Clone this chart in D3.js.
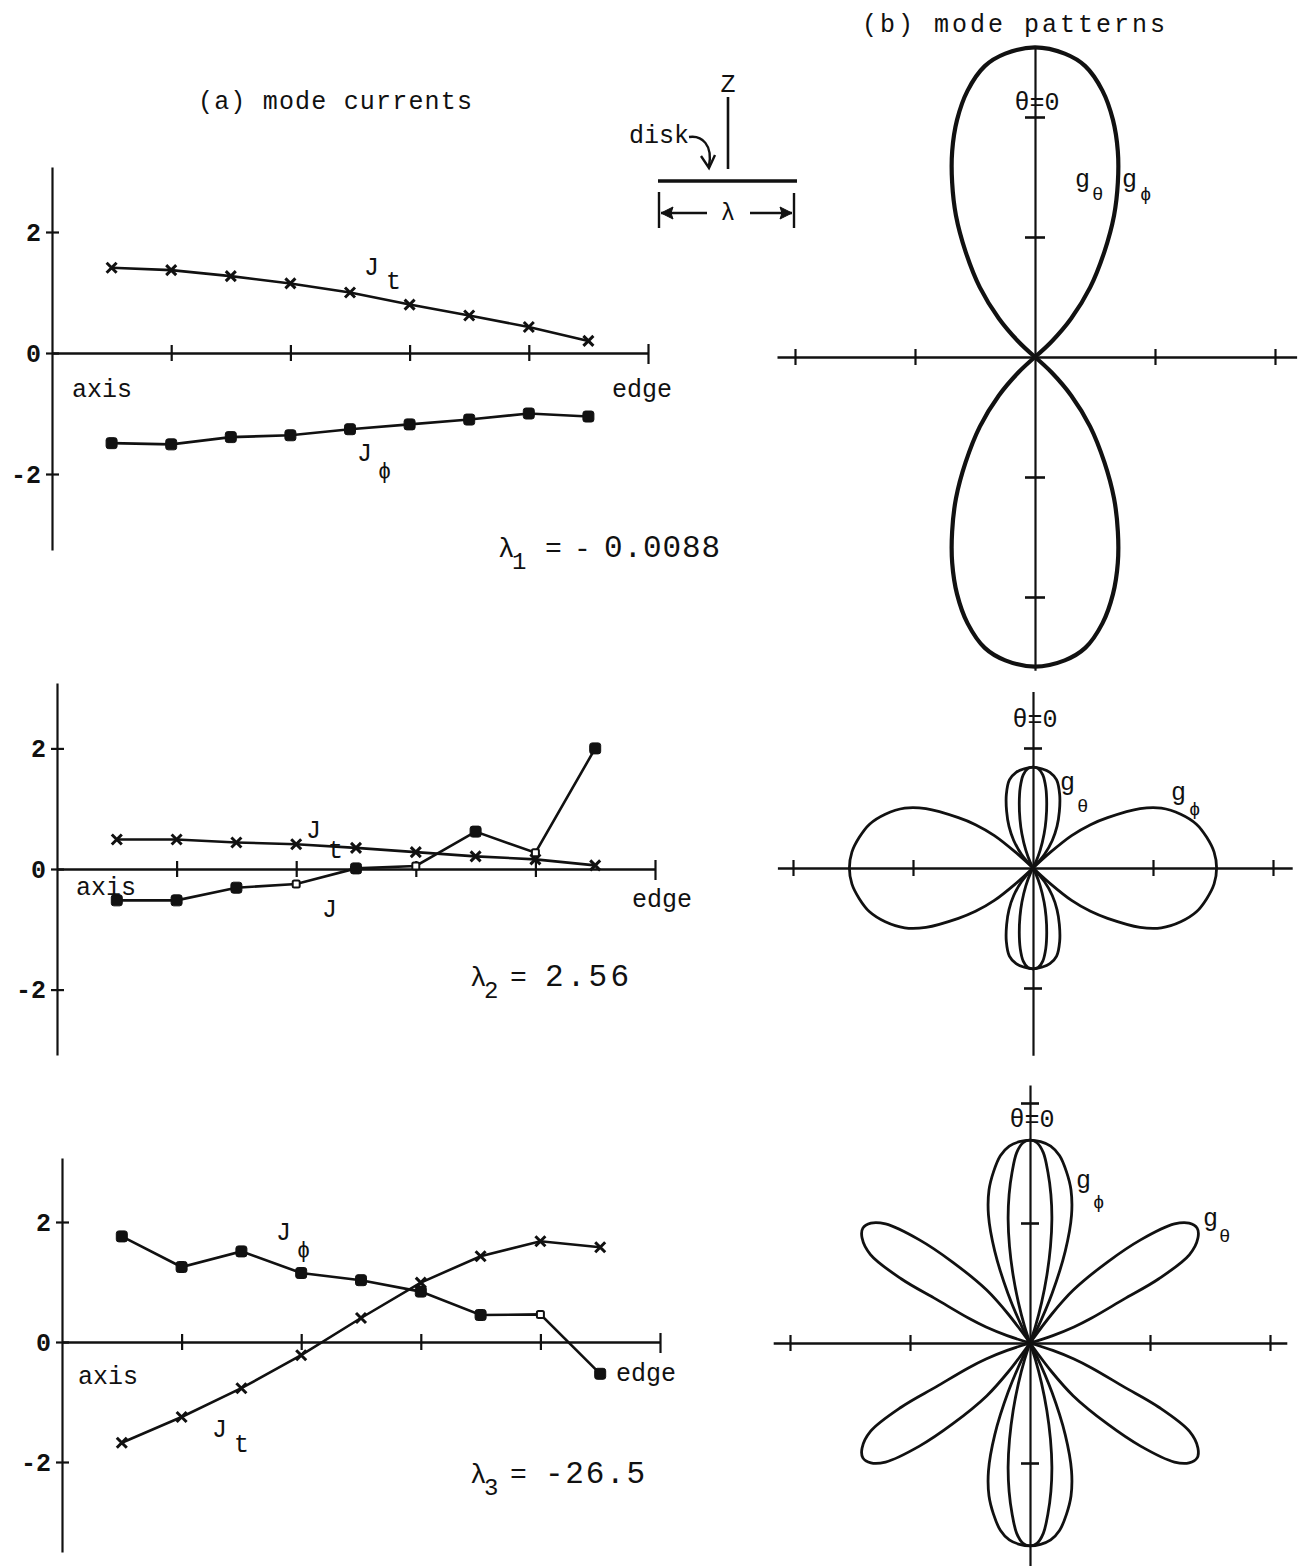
<!DOCTYPE html>
<html><head><meta charset="utf-8">
<script src="https://cdn.jsdelivr.net/npm/d3@7"></script>
<style>
body{margin:0;background:#fff}
svg{display:block}
text{font-family:"Liberation Mono","DejaVu Sans Mono",monospace;fill:#111}
</style></head><body>
<svg id="fig" width="1300" height="1566"></svg>
<script>
// ---- (a) mode currents: radial stations from the disk axis (0) to its edge (5)
const stations = [0.5, 1, 1.5, 2, 2.5, 3, 3.5, 4, 4.5];
const xTicks = [1, 2, 3, 4, 5];
const yTicks = [-2, 0, 2];
const yTickLabels = ["-2", "0", "2"];

const mode1Jt   = [1.41, 1.37, 1.27, 1.15, 1.00, 0.80, 0.62, 0.43, 0.20];
const mode1Jphi = [-1.49, -1.51, -1.39, -1.36, -1.26, -1.18, -1.10, -1.00, -1.05];
const mode2Jt   = [0.49, 0.49, 0.44, 0.41, 0.35, 0.28, 0.21, 0.16, 0.06];
const mode2Jphi = [-0.52, -0.52, -0.31, -0.25, 0.01, 0.05, 0.62, 0.27, 2.00];
const mode3Jt   = [-1.68, -1.25, -0.77, -0.22, 0.40, 0.99, 1.43, 1.68, 1.58];
const mode3Jphi = [1.76, 1.25, 1.51, 1.15, 1.03, 0.84, 0.45, 0.46, -0.53];
// stations whose J_phi marker is drawn hollow
const mode1Hollow = [];
const mode2Hollow = [3, 5, 7];
const mode3Hollow = [7];
const eigenvalues = ["- 0.0088", "2.56", "-26.5"];

// ---- (b) mode patterns: half-lobe samples, angle from the z axis (deg) and radius
const p1Theta = [0, 5.6, 9.8, 14.2, 18.2, 21.9, 25.4, 29.2, 33.4, 38.4, 43.2, 47.1, 52];
const p1R     = [2.58, 2.54, 2.46, 2.29, 2.08, 1.85, 1.61, 1.35, 1.05, 0.74, 0.44, 0.19, 0];

const p2PhiTheta = [46, 48, 50, 53, 56, 61, 65, 70, 75, 80, 85, 90];
const p2PhiR     = [0, 0.2, 0.42, 0.6, 0.75, 1.02, 1.18, 1.31, 1.41, 1.47, 1.515, 1.53];
const p2ThOuterTheta = [0, 5, 10, 15, 20, 25, 30, 35, 40, 46];
const p2ThOuterR     = [0.84, 0.83, 0.81, 0.76, 0.65, 0.52, 0.40, 0.28, 0.15, 0];
const p2ThInnerTheta = [0, 3, 6, 9, 12, 15, 18, 22, 26, 29];
const p2ThInnerR     = [0.84, 0.83, 0.78, 0.68, 0.55, 0.42, 0.30, 0.16, 0.05, 0];

const p3PhiOuterTheta = [0, 3, 6, 9, 12, 15, 18, 21, 24, 27, 29];
const p3PhiOuterR     = [1.69, 1.68, 1.65, 1.58, 1.46, 1.32, 1.12, 0.82, 0.45, 0.12, 0];
const p3PhiInnerTheta = [0, 2, 4, 6, 8, 10, 12, 14, 16, 18, 20];
const p3PhiInnerR     = [1.69, 1.67, 1.59, 1.43, 1.25, 1.05, 0.82, 0.58, 0.35, 0.15, 0];
const p3ThTheta = [34, 37, 39.3, 43.7, 47, 50.5, 53, 55.5, 58, 61, 63.5, 65, 68, 70, 72, 74];
const p3ThR     = [0, 0.3, 0.57, 0.93, 1.26, 1.56, 1.66, 1.69, 1.65, 1.52, 1.2, 0.86, 0.55, 0.39, 0.2, 0];

const svg = d3.select("#fig");
const INK = "#111";

function label(x, y, txt, size, opts = {}) {
  const t = svg.append("text").attr("x", x).attr("y", y)
    .attr("font-size", size).text(txt);
  if (opts.anchor) t.attr("text-anchor", opts.anchor);
  if (opts.weight) t.attr("font-weight", opts.weight);
  if (opts.len) t.attr("textLength", opts.len).attr("lengthAdjust", "spacing");
  return t;
}

// titles
label(198, 109, "(a)  mode currents", 25, {len: 274});
label(862, 32, "(b) mode patterns", 25, {len: 303});

// ---------- left column ----------
const panelsA = [
  {x0: 52, x5: 648, y0: 353, unit: 60.5, top: 167, bottom: 550, jt: mode1Jt, jphi: mode1Jphi, hollow: mode1Hollow},
  {x0: 57, x5: 655, y0: 869, unit: 60.3, top: 683, bottom: 1055, jt: mode2Jt, jphi: mode2Jphi, hollow: mode2Hollow},
  {x0: 62, x5: 660, y0: 1342, unit: 60, top: 1158, bottom: 1552, jt: mode3Jt, jphi: mode3Jphi, hollow: mode3Hollow}
];

panelsA.forEach((p, k) => {
  const g = svg.append("g");
  const x = d3.scaleLinear().domain([0, 5]).range([p.x0, p.x5]);
  const y = d3.scaleLinear()
    .domain([-(p.bottom - p.y0) / p.unit, (p.y0 - p.top) / p.unit])
    .range([p.bottom, p.top]);

  const ya = g.append("g").attr("transform", `translate(${p.x0},0)`)
    .call(d3.axisLeft(y).tickValues(yTicks).tickSizeOuter(0)
      .tickFormat(d => yTickLabels[yTicks.indexOf(d)]));
  ya.select(".domain").attr("stroke", INK).attr("stroke-width", 2.2);
  ya.selectAll(".tick line").attr("x1", -6).attr("x2", 7).attr("stroke", INK).attr("stroke-width", 2.2);
  ya.selectAll(".tick text").attr("x", -11).attr("font-size", 25).attr("font-weight", "bold")
    .attr("font-family", "'Liberation Mono','DejaVu Sans Mono',monospace").attr("fill", INK);

  const xa = g.append("g").attr("transform", `translate(0,${y(0)})`)
    .call(d3.axisBottom(x).tickValues(xTicks).tickFormat("").tickSizeOuter(0));
  xa.select(".domain").attr("stroke", INK).attr("stroke-width", 2.4);
  xa.selectAll(".tick line").attr("y1", d => d === 5 ? -9 : -8).attr("y2", d => d === 5 ? 11 : 8)
    .attr("stroke", INK).attr("stroke-width", 2.2);

  const line = d3.line().x((d, i) => x(stations[i])).y(d => y(d));
  g.append("path").attr("d", line(p.jt)).attr("fill", "none").attr("stroke", INK).attr("stroke-width", 2.6);
  g.append("path").attr("d", line(p.jphi)).attr("fill", "none").attr("stroke", INK).attr("stroke-width", 2.6);

  g.selectAll(null).data(p.jt).join("path")
    .attr("transform", (d, i) => `translate(${x(stations[i])},${y(d)})`)
    .attr("d", "M-5,-5L5,5M-5,5L5,-5")
    .attr("stroke", INK).attr("stroke-width", 3).attr("fill", "none");

  g.selectAll(null).data(p.jphi).join("rect")
    .each(function (d, i) {
      const open = p.hollow.includes(i);
      const s = open ? 7 : 11;
      d3.select(this).attr("x", x(stations[i]) - s / 2).attr("y", y(d) - s / 2)
        .attr("width", s).attr("height", s).attr("rx", open ? 1.5 : 2.5)
        .attr("fill", open ? "#fff" : INK).attr("stroke", INK).attr("stroke-width", open ? 2 : 1);
    });
});

// axis / edge captions
[[72, 397, 612, 397], [76, 895, 632, 907], [78, 1384, 616, 1381]].forEach(([ax, ay, ex, ey]) => {
  label(ax, ay, "axis", 25);
  label(ex, ey, "edge", 25);
});

// series names
label(364, 275, "J", 25); label(386, 289, "t", 25);
label(357, 461, "J", 25); label(378, 478, "ϕ", 22);
label(306, 838, "J", 25); label(328, 858, "t", 25);
label(322, 917, "J", 25);
label(276, 1240, "J", 25); label(297, 1257, "ϕ", 22);
label(212, 1437, "J", 25); label(234, 1452, "t", 25);

// eigenvalues
[[498, 557, "1", 545, 604], [470, 986, "2", 510, 545], [470, 1483, "3", 510, 545]].forEach(([lx, ly, sub, ex, vx], i) => {
  label(lx, ly, "λ", 28);
  label(lx + 14, ly + 12, sub, 24);
  label(ex, ly, "=", 28);
  if (i === 0) { label(574, ly, "-", 28); label(vx, ly, "0.0088", 31, {len: 116}); }
  else label(vx, ly, eigenvalues[i], 31, {len: i === 1 ? 84 : 100});
});

// ---------- disk sketch ----------
const dg = svg.append("g").attr("stroke", INK).attr("fill", "none");
dg.append("line").attr("x1", 728).attr("x2", 728).attr("y1", 97).attr("y2", 169).attr("stroke-width", 2.6);
dg.append("line").attr("x1", 658).attr("x2", 797).attr("y1", 181).attr("y2", 181).attr("stroke-width", 3.6);
dg.append("line").attr("x1", 659).attr("x2", 659).attr("y1", 192).attr("y2", 228).attr("stroke-width", 2.4);
dg.append("line").attr("x1", 794).attr("x2", 794).attr("y1", 193).attr("y2", 228).attr("stroke-width", 2.4);
dg.append("line").attr("x1", 661).attr("x2", 707).attr("y1", 213).attr("y2", 213).attr("stroke-width", 2.4);
dg.append("line").attr("x1", 750).attr("x2", 792).attr("y1", 213).attr("y2", 213).attr("stroke-width", 2.4);
dg.append("path").attr("d", "M661,213 L673,207 L671,213 L673,219 Z").attr("fill", INK).attr("stroke-width", 1);
dg.append("path").attr("d", "M792,213 L780,207 L782,213 L780,219 Z").attr("fill", INK).attr("stroke-width", 1);
dg.append("path").attr("d", "M689,137 C702,135 713,145 709,166").attr("stroke-width", 2.4);
dg.append("path").attr("d", "M701,156 L709,168 L715,155").attr("stroke-width", 2.4);
label(728, 92, "Z", 25, {anchor: "middle"});
label(629, 143, "disk", 25);
label(728, 220, "λ", 24, {anchor: "middle"});

// ---------- right column: polar patterns ----------
function mirrorAboutZero(th, r) {
  const half = th.map((t, i) => [t, r[i]]);
  return [...half.slice(1).reverse().map(([t, v]) => [-t, v]), ...half];
}
function mirrorAboutNinety(th, r) {
  const half = th.map((t, i) => [t, r[i]]);
  return [...half, ...half.slice(0, -1).reverse().map(([t, v]) => [180 - t, v])];
}
const flipDown = pts => pts.map(([t, v]) => [180 - t, v]);
const flipLeft = pts => pts.map(([t, v]) => [-t, v]);

const panelsB = [
  {cx: 1035, cy: 357, hx: [-2.15, 2.18], vy: [-2.61, 2.58], ht: [-2, -1, 1, 2], vt: [-2, -1, 1, 2], vtw: 10, sw: 4.2,
   lobes: (() => { const up = mirrorAboutZero(p1Theta, p1R); return [up, flipDown(up)]; })(),
   theta0: 110},
  {cx: 1033, cy: 868, hx: [-2.13, 2.16], vy: [-1.56, 1.47], ht: [-2, -1, 1, 2], vt: [-1, 1], vtw: 9, sw: 2.8,
   lobes: (() => {
     const right = mirrorAboutNinety(p2PhiTheta, p2PhiR);
     const outer = mirrorAboutZero(p2ThOuterTheta, p2ThOuterR);
     const inner = mirrorAboutZero(p2ThInnerTheta, p2ThInnerR);
     return [right, flipLeft(right), outer, flipDown(outer), inner, flipDown(inner)];
   })(),
   theta0: 727},
  {cx: 1030, cy: 1343, hx: [-2.14, 2.14], vy: [-1.95, 2.15], ht: [-2, -1, 1, 2], vt: [-1, 1, 2], vtw: 9, sw: 2.8,
   lobes: (() => {
     const outer = mirrorAboutZero(p3PhiOuterTheta, p3PhiOuterR);
     const inner = mirrorAboutZero(p3PhiInnerTheta, p3PhiInnerR);
     const diag = p3ThTheta.map((t, i) => [t, p3ThR[i]]);
     return [outer, flipDown(outer), inner, flipDown(inner),
             diag, flipLeft(diag), flipDown(diag), flipLeft(flipDown(diag))];
   })(),
   theta0: 1127}
];

const UNIT = 120;
panelsB.forEach(p => {
  const g = svg.append("g");
  const xs = d3.scaleLinear().domain(p.hx).range([p.cx + p.hx[0] * UNIT, p.cx + p.hx[1] * UNIT]);
  const ys = d3.scaleLinear().domain(p.vy).range([p.cy - p.vy[0] * UNIT, p.cy - p.vy[1] * UNIT]);
  const rs = d3.scaleLinear().domain([0, 1]).range([0, UNIT]);

  const ha = g.append("g").attr("transform", `translate(0,${p.cy})`)
    .call(d3.axisBottom(xs).tickValues(p.ht).tickFormat("").tickSizeOuter(0));
  ha.select(".domain").attr("stroke", INK).attr("stroke-width", 2.4);
  ha.selectAll(".tick line").attr("y1", -8).attr("y2", 8).attr("stroke", INK).attr("stroke-width", 2.2);

  const va = g.append("g").attr("transform", `translate(${p.cx},0)`)
    .call(d3.axisLeft(ys).tickValues(p.vt).tickFormat("").tickSizeOuter(0));
  va.select(".domain").attr("stroke", INK).attr("stroke-width", 2.2);
  va.selectAll(".tick line").attr("x1", -p.vtw).attr("x2", p.vtw).attr("stroke", INK).attr("stroke-width", 2.6);

  const radial = d3.lineRadial()
    .angle(d => d[0] * Math.PI / 180)
    .radius(d => rs(d[1]))
    .curve(d3.curveCatmullRom.alpha(0.5));
  const lg = g.append("g").attr("transform", `translate(${p.cx},${p.cy})`);
  p.lobes.forEach(pts => {
    lg.append("path").attr("d", radial(pts)).attr("fill", "none")
      .attr("stroke", INK).attr("stroke-width", p.sw).attr("stroke-linejoin", "round");
  });

  label(p.cx + 2, p.theta0, "θ=0", 25, {anchor: "middle"});
});

// pattern component names
label(1075, 187, "g", 25); label(1092, 200, "θ", 19);
label(1122, 187, "g", 25); label(1140, 200, "ϕ", 19);
label(1060, 790, "g", 25); label(1077, 812, "θ", 19);
label(1171, 800, "g", 25); label(1189, 815, "ϕ", 19);
label(1076, 1188, "g", 25); label(1093, 1208, "ϕ", 19);
label(1203, 1226, "g", 25); label(1219, 1242, "θ", 19);
</script>
</body></html>
